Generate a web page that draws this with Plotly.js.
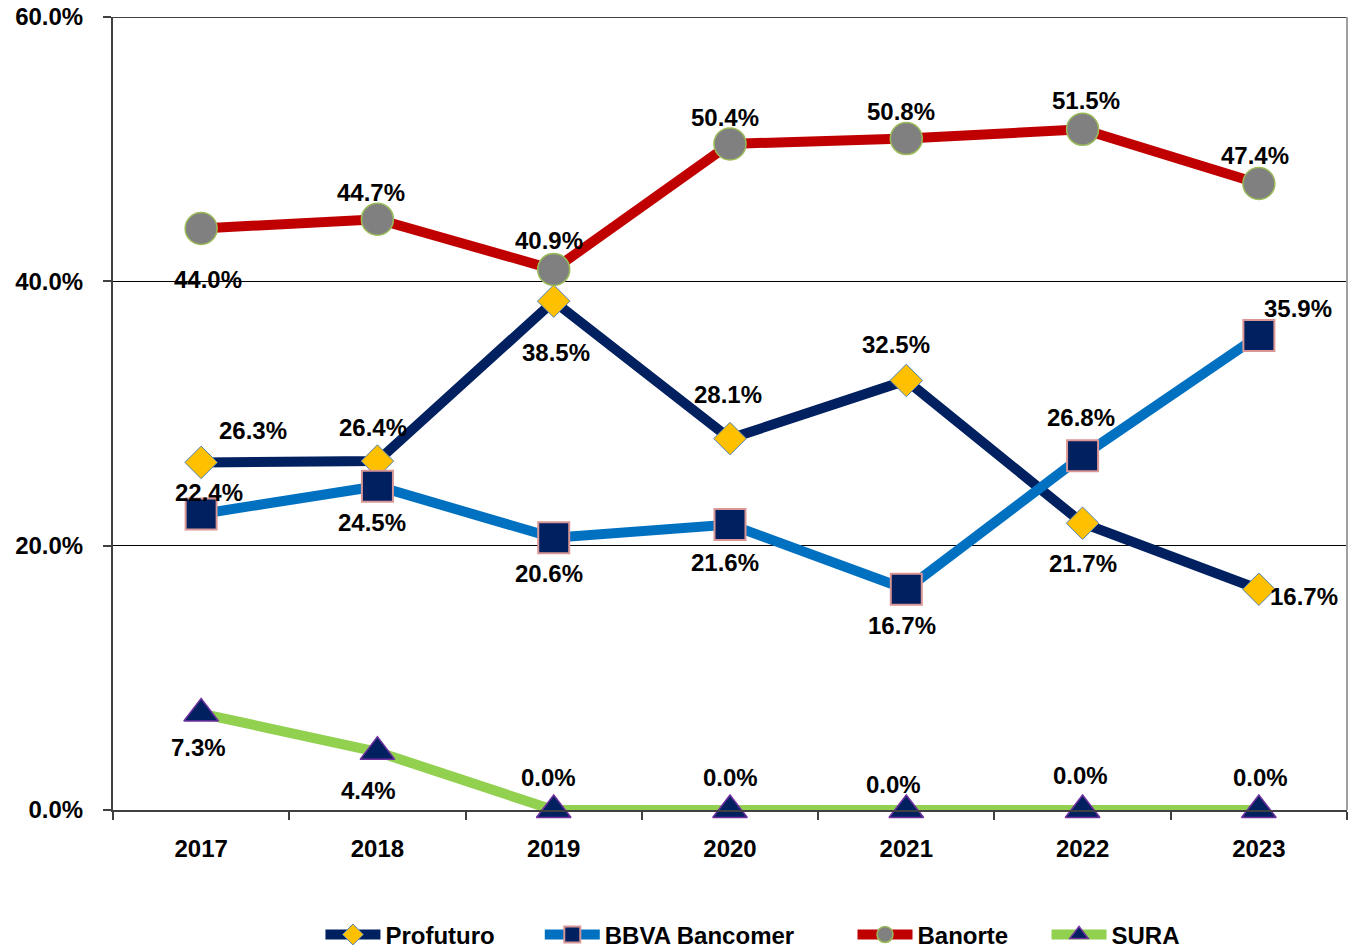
<!DOCTYPE html>
<html>
<head>
<meta charset="utf-8">
<script src="https://cdn.plot.ly/plotly-3.0.1.min.js"></script>
<style>html,body{margin:0;padding:0;background:#fff;}#chart{width:1349px;height:952px;}#err{position:absolute;left:10px;top:10px;color:red;font:14px sans-serif;}</style>
</head>
<body>
<div id="chart"></div>
<div id="err"></div>
<script>
// ---- data ----
const years = ['2017', '2018', '2019', '2020', '2021', '2022', '2023'];
const seriesNames = ['Profuturo', 'BBVA Bancomer', 'Banorte', 'SURA'];
const profuturo = [26.3, 26.4, 38.5, 28.1, 32.5, 21.7, 16.7];
const bbva = [22.4, 24.5, 20.6, 21.6, 16.7, 26.8, 35.9];
const banorte = [44.0, 44.7, 40.9, 50.4, 50.8, 51.5, 47.4];
const sura = [7.3, 4.4, 0.0, 0.0, 0.0, 0.0, 0.0];
const yTicks = [0, 20, 40, 60];

// ---- label offsets (px, right / down) ----
const labelOffsets = [
  [[52,-32],[-4,-34],[2,51],[-2,-44],[-10,-36],[0,40],[45,7]],
  [[8,-21],[-5,36],[-5,36],[-5,38],[-4,36],[-2,-38],[39,-27]],
  [[7,51],[-6,-27],[-5,-29],[-5,-26],[-5,-27],[3,-29],[-4,-28]],
  [[-3,34],[-9,39],[-5,-33],[0,-33],[-13,-26],[-2,-35],[2,-33]]
];
// extra spacing after each legend entry (non-breaking spaces)
const legendPad = [6, 8, 5, 0];

const FONT = 'Liberation Sans, Arial, sans-serif';
const FS = 24;
const allValues = [profuturo, bbva, banorte, sura];
const styles = [
  {line: '#002060', symbol: 'diamond', size: 25, fill: '#FFC000', border: '#4F81BD', bw: 1},
  {line: '#0070C0', symbol: 'square', size: 31, fill: '#002060', border: '#D99694', bw: 2},
  {line: '#C00000', symbol: 'circle', size: 32, fill: '#808080', border: '#9BBB59', bw: 1.5},
  {line: '#92D050', symbol: 'triangle-up', size: 30, fill: '#002060', border: '#7030A0', bw: 1.5}
];

const traces = allValues.map((vals, i) => ({
  type: 'scatter',
  mode: 'lines+markers',
  name: seriesNames[i] + '\u00a0'.repeat(legendPad[i]),
  x: years,
  y: vals,
  line: {color: styles[i].line, width: 10},
  marker: {symbol: styles[i].symbol, size: styles[i].size, color: styles[i].fill,
           line: {color: styles[i].border, width: styles[i].bw}},
  cliponaxis: false,
  hoverinfo: 'skip'
}));

const annotations = [];
allValues.forEach((vals, i) => {
  vals.forEach((v, j) => {
    annotations.push({
      x: j, y: v, xref: 'x', yref: 'y',
      text: '<b>' + v.toFixed(1) + '%</b>',
      showarrow: false,
      xanchor: 'center', yanchor: 'middle',
      xshift: labelOffsets[i][j][0],
      yshift: -labelOffsets[i][j][1],
      font: {family: FONT, size: FS, color: '#000'}
    });
  });
});

const layout = {
  width: 1349, height: 952,
  margin: {l: 113, r: 2, t: 17, b: 142, autoexpand: false},
  paper_bgcolor: '#fff', plot_bgcolor: '#fff',
  font: {family: FONT, size: FS, color: '#000', weight: 700},
  showlegend: true,
  legend: {
    orientation: 'h', x: 0.5186, xanchor: 'center', y: -0.1575, yanchor: 'middle',
    font: {family: FONT, size: FS, color: '#000', weight: 700},
    itemsizing: 'trace', traceorder: 'normal', itemwidth: 55
  },
  xaxis: {
    type: 'category', range: [-0.5, 6.5],
    showline: true, linecolor: '#404040', linewidth: 2,
    ticks: 'outside', tickson: 'boundaries', ticklen: 8, tickcolor: '#404040', tickwidth: 2,
    showgrid: false, zeroline: false,
    ticklabelstandoff: 16,
    tickfont: {family: FONT, size: FS, color: '#000', weight: 700}
  },
  yaxis: {
    range: [0, 60], tickvals: yTicks, ticktext: yTicks.map(t => t.toFixed(1) + '%'),
    showline: true, linecolor: '#404040', linewidth: 2,
    ticks: 'outside', ticklen: 8, tickcolor: '#404040', tickwidth: 2,
    showgrid: true, gridcolor: '#000', gridwidth: 1,
    zeroline: false,
    ticklabelstandoff: 15,
    tickfont: {family: FONT, size: FS, color: '#000', weight: 700}
  },
  shapes: [
    {type: 'line', xref: 'paper', yref: 'y', x0: 0, x1: 1, y0: 60, y1: 60,
     line: {color: '#404040', width: 2}},
    {type: 'line', xref: 'paper', yref: 'paper', x0: 1, x1: 1, y0: 0, y1: 1,
     line: {color: '#A0A0A0', width: 2}}
  ],
  annotations: annotations
};

try {
  Plotly.newPlot('chart', traces, layout, {displayModeBar: false})
    .catch(e => { document.getElementById('err').textContent = String(e); });
} catch (e) {
  document.getElementById('err').textContent = String(e);
}
</script>
</body>
</html>
